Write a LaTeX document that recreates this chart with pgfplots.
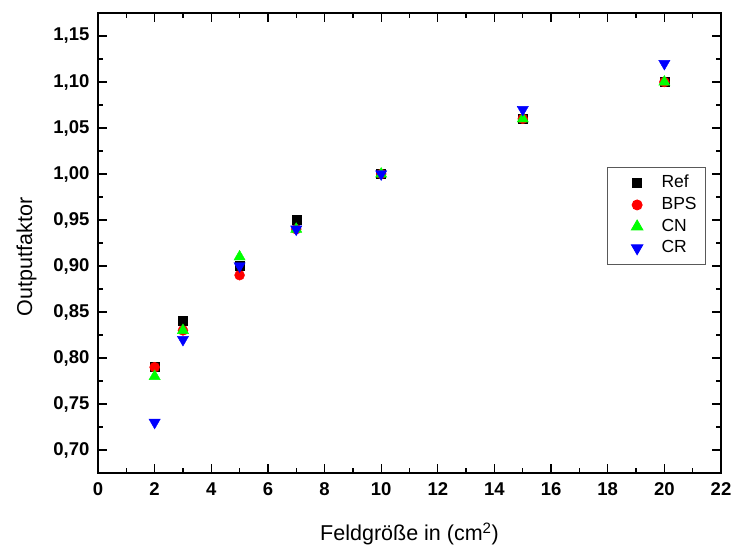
\documentclass[border=0pt]{standalone}
\usepackage{fontspec}
\setmainfont{Liberation Sans}
\usepackage{pgfplots}
\pgfplotsset{compat=1.18}

\definecolor{cref}{RGB}{0,0,0}
\definecolor{cbps}{RGB}{255,0,0}
\definecolor{ccn}{RGB}{0,255,0}
\definecolor{ccr}{RGB}{0,0,255}

\begin{document}
\begin{tikzpicture}
\begin{axis}[
  scale only axis,
  width=623pt, height=460pt,
  xmin=0, xmax=22, ymin=0.675, ymax=1.175,
  xtick={0,2,...,22},
  ytick={0.70,0.75,...,1.16},
  minor x tick num=1,
  minor y tick num=1,
  tick align=inside,
  major tick length=9pt,
  minor tick length=5pt,
  every tick/.style={black, line width=1.3pt},
  axis line style={line width=1.6pt},
  tick label style={font=\fontsize{18.5}{20}\selectfont\bfseries},
  xticklabel style={yshift=-6pt},
  yticklabel style={xshift=-5pt},
  /pgf/number format/assume math mode=true,
  yticklabel style={/pgf/number format/.cd, use comma, fixed, fixed zerofill, precision=2},
  xticklabel style={/pgf/number format/.cd, fixed, precision=0},
  xlabel={Feldgröße in (cm\textsuperscript{2})},
  ylabel={Outputfaktor},
  label style={font=\fontsize{21.5}{23}\selectfont},
  xlabel style={yshift=-20pt},
  ylabel style={yshift=10pt, xshift=-14pt},
  legend style={
    at={(0.976,0.665)}, anchor=north east,
    draw=black!65, line width=0.9pt,
    font=\fontsize{17.5}{19}\selectfont,
    row sep=0pt, column sep=0pt,
    inner xsep=7pt, inner ysep=5pt,
    nodes={text height=12pt, text depth=3pt, inner ysep=3.3pt},
  },
  legend cell align=left,
  legend image code/.code={%
    \path (0pt,0pt) (44pt,0pt);
    \draw[#1] plot coordinates {(22pt,0pt)};
  },
]
\addplot[only marks, mark=square*, mark size=4.5pt, color=cref]
  coordinates {(2,0.79) (3,0.84) (5,0.90) (7,0.95) (10,1.00) (15,1.06) (20,1.10)};
\addlegendentry{Ref}
\addplot[only marks, mark=*, mark size=5pt, color=cbps]
  coordinates {(2,0.79) (3,0.83) (5,0.89) (7,0.94) (10,1.00) (15,1.06) (20,1.10)};
\addlegendentry{BPS}
\addplot[only marks, mark=triangle*, mark size=6.5pt, color=ccn]
  coordinates {(2,0.78) (3,0.83) (5,0.91) (7,0.94) (10,1.00) (15,1.06) (20,1.10)};
\addlegendentry{CN}
\addplot[only marks, mark=triangle*, mark size=6.5pt, mark options={rotate=180}, color=ccr]
  coordinates {(2,0.73) (3,0.82) (5,0.90) (7,0.94) (10,1.00) (15,1.07) (20,1.12)};
\addlegendentry{CR}
\end{axis}
\pgfresetboundingbox
\path (current axis.south west) ++(-98pt,-75pt) coordinate (bbl);
\path (current axis.north east) ++(14pt,13pt) coordinate (btr);
\useasboundingbox (bbl) rectangle (btr);
\end{tikzpicture}
\end{document}
